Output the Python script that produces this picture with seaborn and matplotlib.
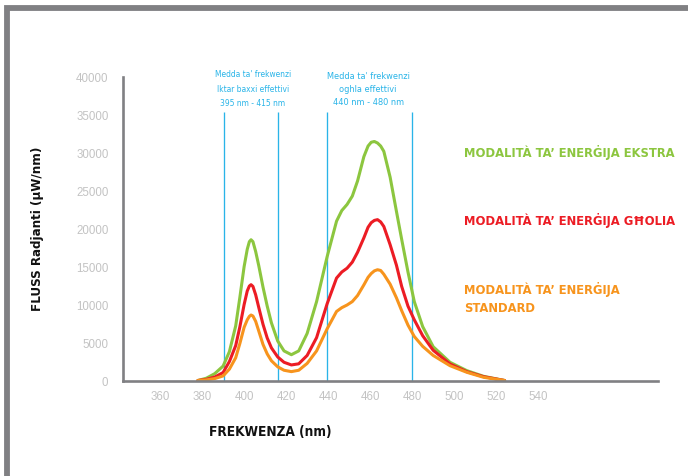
import numpy as np
import pandas as pd
import matplotlib
matplotlib.use("Agg")
import matplotlib.pyplot as plt
from matplotlib.patches import Rectangle
import seaborn as sns

# Wavelength samples (nm) and radiant flux (µW/nm) for each energy mode
wavelength = [378, 382, 386, 390, 393, 396, 398, 400, 401.5, 402.5, 403.3, 404.2,
              405.5, 407, 409, 411, 413, 416, 419, 422.5, 426, 430, 434.5, 439.5,
              444, 446.5, 449, 451.5, 454, 457, 459, 460.5, 462, 463.5, 465,
              466.5, 469.5, 472.5, 475, 478, 481, 485, 490, 498, 506, 514, 524]

flux_ekstra = [0, 300, 900, 1900, 3800, 7200, 11000, 15000, 17300, 18300, 18550,
               18300, 17000, 15100, 12300, 9800, 7600, 5200, 3900, 3400, 3900,
               6200, 10400, 16300, 21000, 22400, 23200, 24300, 26300, 29500,
               30900, 31400, 31500, 31300, 30900, 30200, 26800, 22300, 18600,
               14300, 10400, 7100, 4450, 2400, 1300, 550, 0]

flux_gholia = [0, 150, 450, 1050, 2500, 4600, 7100, 10000, 11800, 12450, 12630,
               12400, 11300, 9600, 7400, 5600, 4300, 3100, 2400, 2050, 2200,
               3300, 5650, 10100, 13500, 14300, 14800, 15600, 16900, 18800,
               20200, 20800, 21100, 21200, 20900, 20300, 17900, 15200, 12400,
               9800, 8000, 5900, 3980, 2180, 1160, 500, 0]

flux_standard = [0, 80, 250, 600, 1500, 3000, 4900, 7000, 8000, 8450, 8630, 8500,
                 7800, 6500, 4750, 3500, 2600, 1800, 1350, 1170, 1350, 2250,
                 3900, 6800, 9100, 9600, 9950, 10400, 11200, 12600, 13600,
                 14100, 14450, 14600, 14500, 14000, 12700, 10900, 9200, 7300,
                 5800, 4500, 3300, 1950, 1080, 420, 0]

mode_names = ["MODALITÀ TA’ ENERĠIJA EKSTRA",
              "MODALITÀ TA’ ENERĠIJA GĦOLIA",
              "MODALITÀ TA’ ENERĠIJA STANDARD"]
mode_colors = ["#8cc63f", "#ec1c24", "#f7941d"]

# Effective frequency bands (nm)
band_low = [390.5, 416]
band_high = [439.5, 480]
band_low_text = "Medda ta' frekwenzi\nIktar baxxi effettivi\n395 nm - 415 nm"
band_high_text = "Medda ta' frekwenzi\noghla effettivi\n440 nm - 480 nm"

x_ticks = [360, 380, 400, 420, 440, 460, 480, 500, 520, 540]
y_ticks = [0, 5000, 10000, 15000, 20000, 25000, 30000, 35000, 40000]

frame = pd.DataFrame({
    "wavelength": wavelength * 3,
    "flux": flux_ekstra + flux_gholia + flux_standard,
    "mode": [mode_names[0]] * len(wavelength) + [mode_names[1]] * len(wavelength)
            + [mode_names[2]] * len(wavelength),
})

sns.set_theme(style="white")
plt.rcParams["font.family"] = ["DejaVu Sans"]
plt.rcParams["font.stretch"] = "condensed"

W, H = 688, 477
fig = plt.figure(figsize=(W / 100, H / 100), dpi=100)
ax = fig.add_axes([123.3 / W, 1 - 381.5 / H, (658 - 123.3) / W, (381.5 - 78) / H])

axis_gray = "#808083"
blue = "#29b4e8"

# Band boundary lines
band_top = 35400
for x in band_low + band_high:
    ax.plot([x, x], [0, band_top], color=blue, lw=0.95, zorder=1, solid_capstyle="butt")

sns.lineplot(data=frame, x="wavelength", y="flux", hue="mode", hue_order=mode_names,
             palette=mode_colors, linewidth=2.2, legend=False, ax=ax, zorder=3,
             estimator=None, sort=False)
for line in ax.lines:
    line.set_solid_joinstyle("round")

ax.set_xlim(342.5, 597)
ax.set_ylim(0, 40000)
ax.set_xticks(x_ticks)
ax.set_yticks(y_ticks)
ax.set_xticklabels([str(v) for v in x_ticks])
ax.set_yticklabels([str(v) for v in y_ticks])
for lbl in ax.get_xticklabels() + ax.get_yticklabels():
    lbl.set_fontfamily("Liberation Sans")
    lbl.set_fontstretch("normal")
    lbl.set_fontsize(8.3)
    lbl.set_color("#c3c3c3")

ax.tick_params(axis="x", length=0, pad=7)
ax.tick_params(axis="y", length=7.2, width=1.9, color=axis_gray, pad=3.5, direction="out")
for side in ["top", "right"]:
    ax.spines[side].set_visible(False)
for side in ["left", "bottom"]:
    ax.spines[side].set_color(axis_gray)
    ax.spines[side].set_linewidth(1.9)
    ax.spines[side].set_zorder(4)

ax.set_xlabel("")
ax.set_ylabel("")

# Band descriptions
ax.text(sum(band_low) / 2 + 0.8, 38550, band_low_text, ha="center", va="center",
        fontsize=6.0, color=blue, linespacing=1.75, clip_on=False)
ax.text(459, 38450, band_high_text, ha="center", va="center",
        fontsize=6.6, color=blue, linespacing=1.55, clip_on=False)

# Axis titles
fig.text(270.5 / W, 1 - 432 / H, "FREKWENZA (nm)", ha="center", va="center",
         fontsize=9.8, fontweight="bold", color="#111111")
fig.text(37.5 / W, 1 - 229 / H, "FLUSS Radjanti (µW/nm)", ha="center", va="center",
         rotation=90, fontsize=9.5, fontweight="bold", color="#111111")

# Mode labels
lx = 464 / W
fs = 9.3
fig.text(lx, 1 - 152 / H, mode_names[0], ha="left", va="center", fontsize=fs,
         fontweight="bold", color=mode_colors[0])
fig.text(lx, 1 - 221 / H, mode_names[1], ha="left", va="center", fontsize=fs,
         fontweight="bold", color=mode_colors[1])
fig.text(lx, 1 - 289.5 / H, "MODALITÀ TA’ ENERĠIJA", ha="left", va="center",
         fontsize=fs, fontweight="bold", color=mode_colors[2])
fig.text(lx, 1 - 309 / H, "STANDARD", ha="left", va="center", fontsize=fs,
         fontweight="bold", color=mode_colors[2])

# Outer frame
fig.patches.append(Rectangle((7.3 / W, 1 - 478.5 / H), 720 / W, (478.5 - 9) / H,
                             transform=fig.transFigure, fill=False,
                             edgecolor="#808083", linewidth=4.2, zorder=0))

fig.savefig("out.png", dpi=100)
